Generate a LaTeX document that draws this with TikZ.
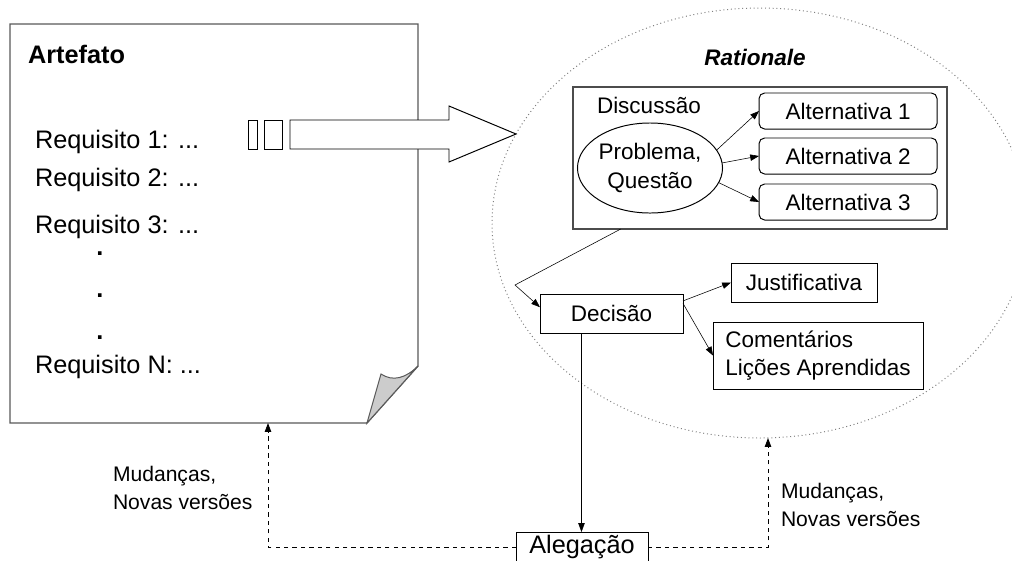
\documentclass[tikz,border=0pt]{standalone}
\usepackage{fontspec}
\setmainfont{Liberation Sans}
\usetikzlibrary{arrows.meta,shapes.geometric}

\begin{document}
\begin{tikzpicture}[x=0.025cm,y=-0.025cm,
	every node/.style={inner sep=0pt,outer sep=0pt},
	box/.style={draw,line width=0.7pt,anchor=north west,align=center},
	altbox/.style={box,rounded corners=4pt,minimum width=4.45cm,minimum height=0.9cm},
	pageline/.style={draw=black!65,line width=1pt},
	feedback/.style={dashed,->,line width=0.6pt},
	>={Triangle[length=2.2mm,width=1.6mm]}]

				\def\fbig{\fontsize{18pt}{22pt}\selectfont}
				\def\fmid{\fontsize{16pt}{20.5pt}\selectfont}
				\def\fsmall{\fontsize{15pt}{20pt}\selectfont}

				\useasboundingbox (0,0) rectangle (1012,560);
				\clip (0,0) rectangle (1012,560);

				%rationale area
				\draw[black!50, dotted, line width=0.7pt] (760,223) ellipse [x radius=268, y radius=215];

				%page
				\draw[pageline, fill=white] (10,24) -- (418,24) -- (418,366) -- (367,423) -- (10,423) -- cycle;
				\draw[pageline, fill=black!20, line width=0.7pt] (367,423) -- (381,374) .. controls (393,382) and (406,378) .. (418,366) -- cycle;

				\node[anchor=west, font=\fbig\bfseries] (art) at (28,54) {Artefato};
				\node[anchor=west, font=\fbig] (req1) at (35,142) {Requisito 1: ...};
				\node[anchor=west, font=\fbig] (req2) at (35,180) {Requisito 2: ...};
				\node[anchor=west, font=\fbig] (req3) at (35,227) {Requisito 3: ...};
				\node[font=\fbig\bfseries] (dot1) at (100,254) {.};
				\node[font=\fbig\bfseries] (dot2) at (100,296) {.};
				\node[font=\fbig\bfseries] (dot3) at (100,338) {.};
				\node[anchor=west, font=\fbig] (reqn) at (35,367) {Requisito N: ...};

				%big arrow
				\draw[line width=0.7pt] (248,120) rectangle (257,149);
				\draw[line width=0.7pt] (264,120) rectangle (282,149);
				\draw[line width=0.7pt, fill=white] (290,120) -- (449,120) -- (449,106) -- (516,134)
					-- (449,162) -- (449,149) -- (290,149) -- cycle;

				%discussion
				\node[font=\fmid\bfseries\itshape] (rat) at (755,57) {Rationale};
				\node[box, draw=black!70, line width=1pt, minimum width=9.35cm, minimum height=3.55cm] (disc) at (573,87) {};
				\node[anchor=west, font=\fmid] (disctxt) at (597,105) {Discussão};
				\node[draw, ellipse, line width=0.7pt, minimum width=3.625cm, minimum height=2.25cm, align=center, font=\fmid] (prob) at (650,168) {Problema,\\Questão};
				\node[altbox, font=\fmid] (alt1) at (759,93) {Alternativa 1};
				\node[altbox, font=\fmid] (alt2) at (759,138) {Alternativa 2};
				\node[altbox, font=\fmid] (alt3) at (759,184) {Alternativa 3};

				\draw[->] (prob.15) -- (alt1.west);
				\draw[->] (prob.4) -- (alt2.west);
				\draw[->] (prob.-12) -- (alt3.west);

				%decision
				\node[box, font=\fmid, minimum width=3.575cm, minimum height=0.975cm] (dec) at (540,294) {Decisão};
				\node[box, font=\fmid, minimum width=3.65cm, minimum height=0.975cm] (just) at (731,263) {Justificativa};
				\node[box, font=\fmid, align=left, minimum width=5.25cm, minimum height=1.675cm] (com) at (713,322) {Comentários\\Lições Aprendidas};

				\coordinate (bend) at (515,285);
				\draw[->] (disc.-153) -- (bend) -- (dec.175);
				\draw[->] (dec.10) -- (just.west);
				\draw[->] (dec.8) -- (com.west);

				%claim
				\node[box, font=\fbig, minimum width=3.3cm, minimum height=0.75cm] (alg) at (516,532) {Alegação};
				\draw[->] (dec.-147) -- (dec.-147 |- alg.north);

				\coordinate (pagebot) at (268,423);
				\coordinate (ratbot) at (768,438);
				\draw[feedback] (alg.west) -| (pagebot);
				\draw[feedback] (alg.east) -| (ratbot);

				\node[anchor=west, align=left, font=\fsmall] (chg1) at (113,488) {Mudanças,\\Novas versões};
				\node[anchor=west, align=left, font=\fsmall] (chg2) at (781,505) {Mudanças,\\Novas versões};

\end{tikzpicture}
\end{document}
